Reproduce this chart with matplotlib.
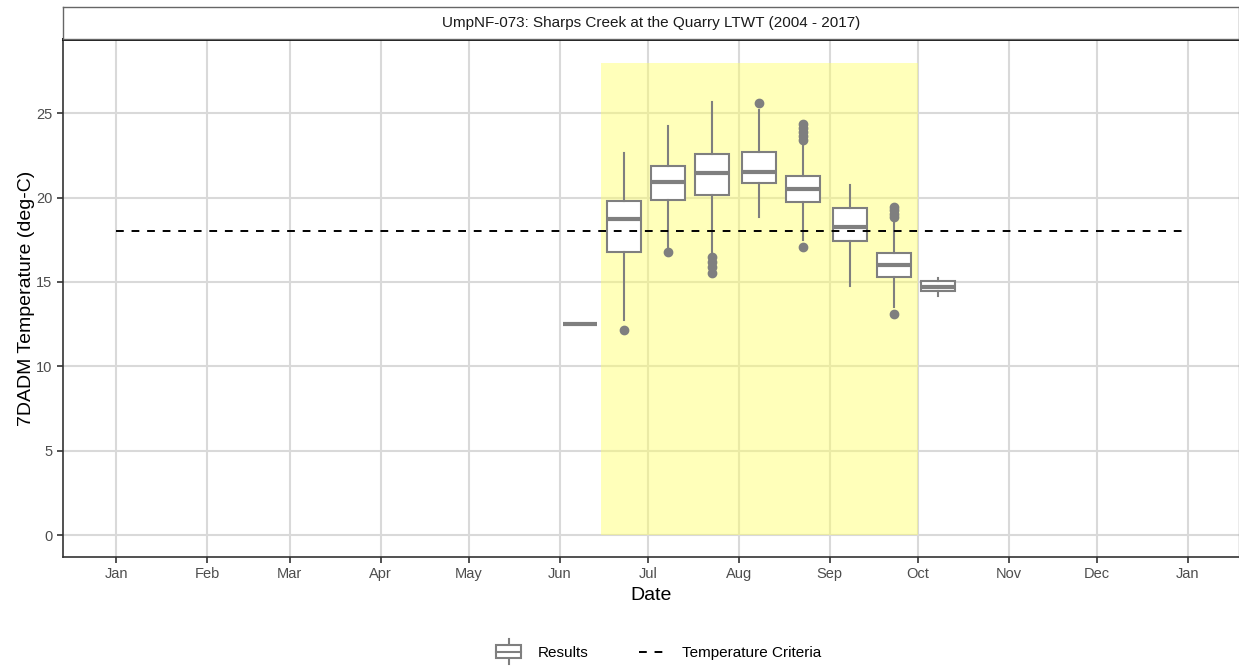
import matplotlib
matplotlib.use("Agg")
import matplotlib.pyplot as plt
import matplotlib.dates as mdates
from matplotlib.patches import Rectangle
from matplotlib.lines import Line2D
from matplotlib.legend_handler import HandlerBase
import pandas as pd

plt.rcParams['font.family'] = ['Liberation Sans', 'DejaVu Sans']

title = "UmpNF-073: Sharps Creek at the Quarry LTWT (2004 - 2017)"

# half-month bins (plotted in a reference year)
box_dates = ["2017-06-08", "2017-06-23", "2017-07-08", "2017-07-23", "2017-08-08",
             "2017-08-23", "2017-09-08", "2017-09-23", "2017-10-08"]
whislo = [12.50, 12.74, 17.08, 16.79, 18.86, 17.50, 14.75, 13.52, 14.16]
q1 = [12.50, 16.75, 19.88, 20.18, 20.87, 19.75, 17.40, 15.32, 14.47]
med = [12.50, 18.74, 20.95, 21.48, 21.52, 20.52, 18.27, 16.01, 14.71]
q3 = [12.50, 19.79, 21.88, 22.57, 22.69, 21.27, 19.41, 16.71, 15.03]
whishi = [12.50, 22.65, 24.23, 25.67, 25.20, 23.20, 20.72, 18.70, 15.21]
outliers = [[], [12.14], [16.77], [16.49, 16.19, 15.90, 15.54], [25.61],
            [24.39, 24.15, 23.90, 23.65, 23.44, 17.08], [], [19.45, 19.25, 19.05, 18.86, 13.13], []]

criteria = 18.0
criteria_start = "2017-01-01"
criteria_end = "2017-12-31"
window_start = "2017-06-15"
window_end = "2017-10-01"
window_top = 28.0

xmin = "2016-12-13 19:12"
xmax = "2018-01-18 04:48"

box_col = "#7f7f7f"
grid_col = "#d9d9d9"

fig = plt.figure(figsize=(12.39, 6.67), dpi=100)
ax = fig.add_axes([63 / 1239, 1 - 557 / 667, 1175.5 / 1239, 518 / 667])

x = mdates.date2num(pd.to_datetime(box_dates))
ws = mdates.date2num(pd.Timestamp(window_start))
we = mdates.date2num(pd.Timestamp(window_end))
ax.add_patch(Rectangle((ws, 0), we - ws, window_top, color="#ffff66", alpha=0.45, lw=0, zorder=1))

stats = []
for i in range(len(box_dates)):
    stats.append(dict(med=med[i], q1=q1[i], q3=q3[i], whislo=whislo[i], whishi=whishi[i],
                      fliers=outliers[i]))
ax.bxp(stats, positions=x, widths=11.6, patch_artist=True, showcaps=False, manage_ticks=False,
       boxprops=dict(facecolor="white", edgecolor=box_col, lw=1.5),
       medianprops=dict(color=box_col, lw=3),
       whiskerprops=dict(color=box_col, lw=1.5),
       flierprops=dict(marker="o", markerfacecolor=box_col, markeredgecolor=box_col, markersize=6),
       zorder=3)

cs = mdates.date2num(pd.Timestamp(criteria_start))
ce = mdates.date2num(pd.Timestamp(criteria_end))
ax.plot([cs, ce], [criteria, criteria], color="black", ls=(0, (4, 4)), lw=1.4, zorder=4)

ax.set_xlim(mdates.date2num(pd.Timestamp(xmin)), mdates.date2num(pd.Timestamp(xmax)))
ax.set_ylim(-1.3, 29.4)
ax.xaxis.set_major_locator(mdates.MonthLocator())
ax.xaxis.set_major_formatter(mdates.DateFormatter("%b"))
ax.set_yticks([0, 5, 10, 15, 20, 25])
ax.grid(True, color=grid_col, lw=1.5, zorder=0)
ax.set_axisbelow(True)
ax.tick_params(colors="#333333", labelcolor="#4d4d4d", labelsize=10.5, length=4, width=1.2)
for s in ["left", "bottom"]:
    ax.spines[s].set_color("#333333")
    ax.spines[s].set_linewidth(1.2)
ax.spines["right"].set_color("#999999")
ax.spines["right"].set_linewidth(1.0)
ax.spines["top"].set_color("black")
ax.spines["top"].set_linewidth(2)
ax.set_xlabel("Date", fontsize=14, labelpad=4)
ax.set_ylabel("7DADM Temperature (deg-C)", fontsize=14, labelpad=1)

# strip
sax = fig.add_axes([63 / 1239, 1 - 39 / 667, 1175.5 / 1239, 32 / 667])
sax.set_xticks([])
sax.set_yticks([])
for s in sax.spines.values():
    s.set_color("#666666")
    s.set_linewidth(1.0)
sax.text(0.5, 0.5, title, ha="center", va="center", fontsize=11, color="#1a1a1a",
         transform=sax.transAxes)


class BoxHandler(HandlerBase):
    def create_artists(self, legend, orig, xd, yd, w, h, fs, trans):
        cx = xd + w / 2
        r = Rectangle((xd + 1, yd - 1), w - 2, h + 2, facecolor="white", edgecolor=box_col, lw=1.5,
                      transform=trans)
        m = Line2D([xd + 1, xd + w - 1], [yd + h / 2, yd + h / 2], color=box_col, lw=1.5, transform=trans)
        w1 = Line2D([cx, cx], [yd + h + 1, yd + h + 5], color=box_col, lw=1.5, transform=trans)
        w2 = Line2D([cx, cx], [yd - 1, yd - 5], color=box_col, lw=1.5, transform=trans)
        return [w1, w2, r, m]


box_h = Rectangle((0, 0), 1, 1)
line_h = Line2D([], [], color="black", ls=(0, (4, 4)), lw=1.4)
fig.legend([box_h, line_h], ["Results", "Temperature Criteria"], handler_map={box_h: BoxHandler()},
           loc="center", bbox_to_anchor=(0.531, 1 - 653 / 667), ncol=2, frameon=False, fontsize=11,
           handlelength=1.8, handletextpad=1.0, columnspacing=3.3)

fig.savefig("out.png", dpi=100)
